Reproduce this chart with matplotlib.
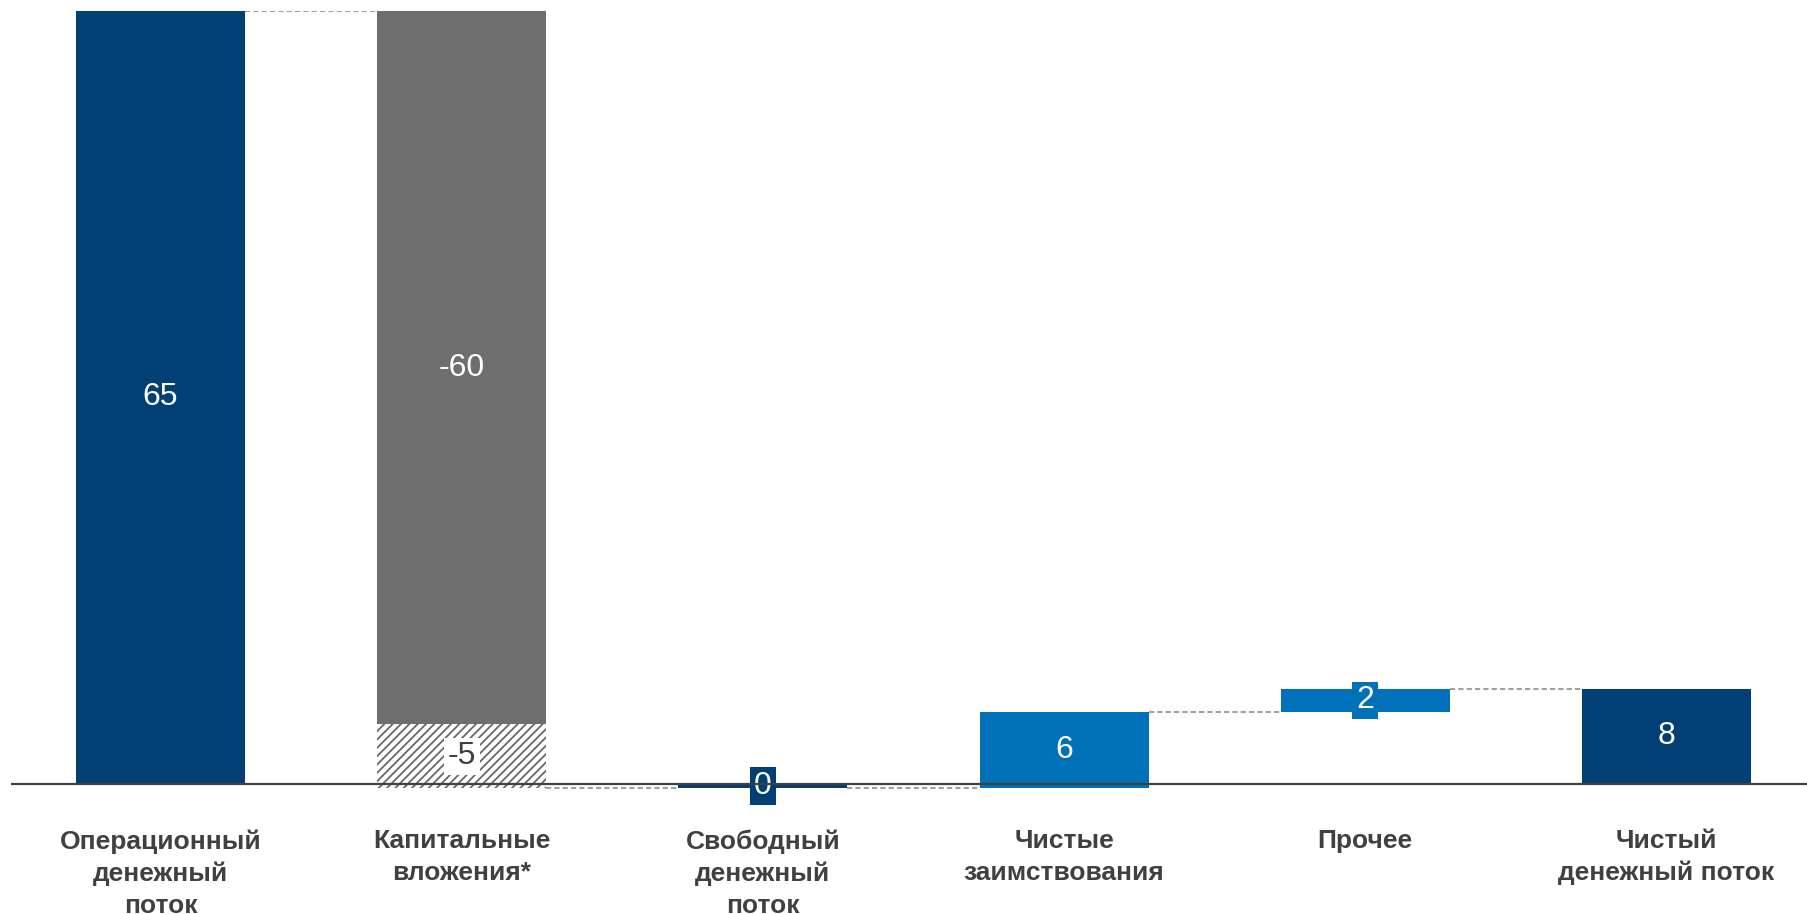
"""
Водопад денежного потока (waterfall) на matplotlib.
"""

import matplotlib
matplotlib.use('Agg')
import matplotlib.pyplot as plt

# Подписи категорий
categories = [
    'Операционный\nденежный\nпоток',
    'Капитальные\nвложения*',
    'Свободный\nденежный\nпоток',
    'Чистые\nзаимствования',
    'Прочее',
    'Чистый\nденежный поток',
]

# Значения (млрд)
ocf = 65.0
capex_main = -60.0
capex_other = -5.4
borrowings = 6.4
other = 2.0

DARK_BLUE = '#023f74'
GRAY = '#6e6e6e'
BLUE = '#0070b9'
TEXT = '#404040'
DASH = '#a0a0a0'

plt.rcParams['font.family'] = ['Liberation Sans', 'DejaVu Sans']
plt.rcParams['hatch.color'] = '#686868'
plt.rcParams['hatch.linewidth'] = 1.3

fcf = ocf + capex_main + capex_other
net = fcf + borrowings + other

fig = plt.figure(figsize=(18.08, 9.14), dpi=100)
W, H = 1808, 914
ax = fig.add_axes([11 / W, 1 - 800 / H, 1 - 11 / W, (800 - 11) / H])

width = 0.561
x = list(range(len(categories)))

# Столбцы водопада
ax.bar(x[0], ocf, width, bottom=0, color=DARK_BLUE)
ax.bar(x[1], capex_main, width, bottom=ocf, color=GRAY)
ax.bar(x[1], capex_other, width, bottom=ocf + capex_main, color='white',
       edgecolor='#686868', hatch='////', linewidth=0)
ax.bar(x[2], fcf, width, bottom=0, color=DARK_BLUE)
ax.bar(x[3], borrowings, width, bottom=fcf, color=BLUE)
ax.bar(x[4], other, width, bottom=fcf + borrowings, color=BLUE)
ax.bar(x[5], net, width, bottom=0, color=DARK_BLUE)


# Подписи значений
def label(xi, y, val, color, box=None):
    kw = dict(ha='center', va='center', fontsize=23, color=color)
    if box:
        kw['bbox'] = dict(boxstyle='square,pad=0.12', fc=box, ec='none')
    ax.text(xi, y, f"{round(val):d}", **kw)


label(x[0], ocf / 2, ocf, 'white')
label(x[1], ocf + capex_main / 2, capex_main, 'white')
label(x[1], ocf + capex_main + capex_other / 2, capex_other, TEXT, box='white')
label(x[2], fcf / 2, fcf, 'white', box=DARK_BLUE)
label(x[3], fcf + borrowings / 2, borrowings, 'white')
label(x[4], fcf + borrowings + other / 2, other, 'white', box=BLUE)
label(x[5], net / 2, net, 'white')

# Пунктирные соединители
levels = [ocf, fcf, fcf, fcf + borrowings, net]
for i, lvl in enumerate(levels):
    ax.plot([x[i] + width / 2, x[i + 1] - width / 2], [lvl, lvl],
            color=DASH, lw=1.5, ls=(0, (2.5, 1.5)), zorder=1)

ax.axhline(0, color=TEXT, lw=1.6, zorder=3)

ax.set_xlim(-0.496, 5.47)
ax.set_ylim(-(800 - 783.7) / 11.89, 65)
ax.set_xticks(x)
ax.set_xticklabels(categories, fontsize=19, fontweight='bold', color=TEXT,
                   linespacing=1.4)
ax.tick_params(axis='x', length=0, pad=21)
ax.set_yticks([])
for s in ax.spines.values():
    s.set_visible(False)

fig.savefig('out.png', dpi=100)
